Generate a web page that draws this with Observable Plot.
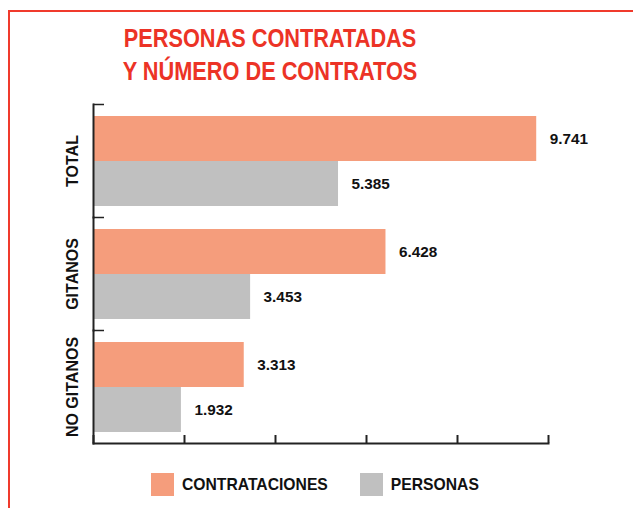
<!DOCTYPE html>
<html>
<head>
<meta charset="utf-8">
<script src="https://cdn.jsdelivr.net/npm/d3@7"></script>
<script src="https://cdn.jsdelivr.net/npm/@observablehq/plot@0.6"></script>
<style>
  html, body { margin: 0; padding: 0; background: #fff; width: 633px; height: 508px; overflow: hidden; }
  body { position: relative; font-family: "Liberation Sans", Arial, sans-serif; }
  #frame { position: absolute; left: 8px; top: 10px; width: 700px; height: 600px;
           border-top: 2.5px solid #f03a2c; border-left: 2.5px solid #f03a2c; }
  #title { position: absolute; left: 69.5px; width: 400px; top: 22px; text-align: center;
           font-family: "Liberation Sans Narrow", "Arial Narrow", "Liberation Sans", sans-serif;
           font-weight: bold; font-size: 26.5px; line-height: 33px; color: #ec3326;
           transform: scaleX(0.82); transform-origin: 200px 0; white-space: nowrap; }
  #chart { position: absolute; left: 0; top: 0; }
  #legend { position: absolute; left: 151px; top: 473px; display: flex; align-items: center;
            font-weight: bold; font-size: 15.7px; color: #111; }
  #legend .item { display: flex; align-items: center; margin-right: 32px; }
  #legend .sw { width: 23px; height: 23px; margin-right: 8px; }
</style>
</head>
<body>
<div id="frame"></div>
<div id="title">PERSONAS CONTRATADAS<br>Y NÚMERO DE CONTRATOS</div>
<div id="chart"></div>
<div id="legend"></div>
<script>
const categories = ["TOTAL", "GITANOS", "NO GITANOS"];
const series = ["CONTRATACIONES", "PERSONAS"];
const contrataciones = [9741, 6428, 3313];
const personas = [5385, 3453, 1932];
const xTicks = [0, 2000, 4000, 6000, 8000, 10000];
const colors = ["#f59d7c", "#c0c0c0"];

const data = [];
categories.forEach((c, i) => {
  data.push({cat: c, serie: series[0], value: contrataciones[i]});
  data.push({cat: c, serie: series[1], value: personas[i]});
});

const fmt = d3.formatLocale({decimal: ",", thousands: ".", grouping: [3], currency: ["", "€"]}).format(",d");

const chart = Plot.plot({
  width: 633,
  height: 460,
  marginLeft: 93,
  marginRight: 85,
  marginTop: 103,
  marginBottom: 17,
  style: {overflow: "visible", fontFamily: "'Liberation Sans', Arial, sans-serif"},
  x: {domain: [0, 10000], axis: null, label: null},
  y: {domain: series, paddingInner: 0, paddingOuter: 0.24, axis: null, label: null},
  fy: {domain: categories, padding: 0, axis: null, label: null},
  color: {domain: series, range: colors},
  marks: [
    Plot.barX(data, {fy: "cat", y: "serie", x: "value", fill: "serie"}),
    Plot.text(data, {fy: "cat", y: "serie", x: "value", text: d => fmt(d.value),
      dx: 13, textAnchor: "start", fontWeight: "bold", fontSize: 15.3, fill: "#111"}),
    Plot.frame({anchor: "left", stroke: "#222", strokeWidth: 2}),
    Plot.frame({anchor: "bottom", facetAnchor: "bottom", stroke: "#222", strokeWidth: 2}),
    Plot.axisX({ticks: xTicks, tickSize: -8, tickFormat: () => "", label: null, stroke: "#222", strokeWidth: 2}),
    Plot.axisFy({anchor: "left", tickSize: -11, dy: -56.5, tickFormat: () => "", label: null, stroke: "#222", strokeWidth: 1.5}),
    Plot.text(categories, {fy: d => d, frameAnchor: "left", text: d => d, rotate: -90,
      dx: -21, textAnchor: "middle", lineAnchor: "middle", fontWeight: "bold", fontSize: 16, fill: "#111"})
  ]
});
document.getElementById("chart").appendChild(chart);

const legend = document.getElementById("legend");
series.forEach((s, i) => {
  const item = document.createElement("div");
  item.className = "item";
  const sw = document.createElement("div");
  sw.className = "sw";
  sw.style.background = colors[i];
  const t = document.createElement("span");
  t.textContent = s;
  item.appendChild(sw);
  item.appendChild(t);
  legend.appendChild(item);
});
</script>
</body>
</html>
